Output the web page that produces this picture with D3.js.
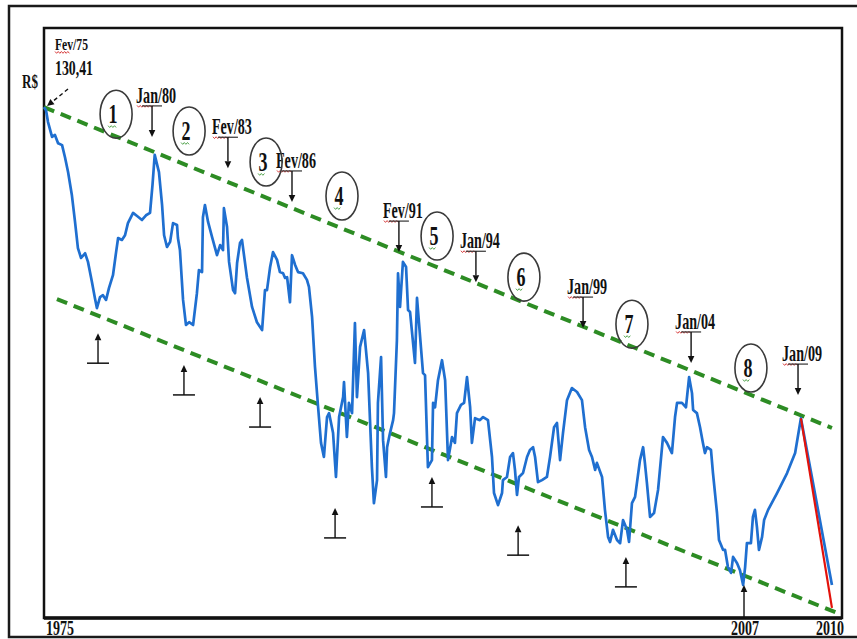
<!DOCTYPE html>
<html>
<head>
<meta charset="utf-8">
<script src="https://cdn.jsdelivr.net/npm/d3@7"></script>
<style>
  html, body { margin: 0; padding: 0; background: #fff; }
  svg { display: block; }
  .lbl { font-family: "Liberation Serif", "Times New Roman", serif; font-weight: bold; fill: #111; }
</style>
</head>
<body>
<svg id="chart" width="857" height="639"></svg>
<script>
// Series: decimal year -> R$
const years = [
  1975.08,1975.17,1975.26,1975.44,1975.57,1975.71,1975.89,1976.02,1976.16,1976.33,
  1976.47,1976.60,1976.74,1976.92,1977.05,1977.23,1977.36,1977.45,1977.59,1977.72,
  1977.86,1977.99,1978.17,1978.31,1978.40,1978.57,1978.71,1978.84,1979.07,1979.25,
  1979.47,1979.65,1979.83,1979.94,1980.04,1980.23,1980.37,1980.46,1980.59,1980.73,
  1980.86,1981.04,1981.08,1981.17,1981.31,1981.44,1981.58,1981.76,1981.93,1982.02,
  1982.16,1982.20,1982.29,1982.43,1982.61,1982.83,1982.97,1983.10,1983.14,1983.28,
  1983.37,1983.55,1983.64,1983.73,1983.86,1983.95,1984.17,1984.40,1984.62,1984.85,
  1984.98,1985.07,1985.21,1985.34,1985.52,1985.65,1985.79,1985.88,1985.97,1986.10,
  1986.19,1986.33,1986.46,1986.68,1986.86,1986.95,1987.09,1987.22,1987.36,1987.49,
  1987.62,1987.76,1987.85,1988.03,1988.16,1988.30,1988.48,1988.52,1988.65,1988.74,
  1988.88,1989.01,1989.10,1989.24,1989.42,1989.60,1989.77,1989.86,1990.00,1990.04,
  1990.18,1990.27,1990.40,1990.45,1990.58,1990.72,1990.76,1990.89,1990.94,1991.03,
  1991.16,1991.30,1991.39,1991.48,1991.70,1991.79,1991.93,1992.06,1992.15,1992.28,
  1992.46,1992.51,1992.60,1992.73,1992.91,1993.05,1993.18,1993.36,1993.49,1993.58,
  1993.76,1993.90,1994.03,1994.17,1994.25,1994.39,1994.61,1994.75,1994.97,1995.15,
  1995.24,1995.42,1995.60,1995.64,1995.82,1995.96,1996.09,1996.18,1996.27,1996.36,
  1996.54,1996.72,1996.85,1996.99,1997.08,1997.21,1997.39,1997.61,1997.75,1997.93,
  1998.06,1998.20,1998.33,1998.51,1998.73,1998.96,1999.18,1999.32,1999.50,1999.63,
  1999.77,1999.85,2000.08,2000.21,2000.35,2000.44,2000.57,2000.75,2000.89,2001.02,
  2001.20,2001.29,2001.42,2001.56,2001.78,2001.92,2002.00,2002.09,2002.23,2002.41,
  2002.59,2002.81,2002.99,2003.21,2003.35,2003.44,2003.66,2003.84,2003.98,2004.11,
  2004.16,2004.33,2004.47,2004.60,2004.69,2004.78,2004.96,2005.05,2005.23,2005.32,
  2005.50,2005.59,2005.72,2005.86,2005.95,2006.13,2006.26,2006.40,2006.49,2006.57,
  2006.75,2006.84,2006.93,2007.02,2007.11,2007.25,2007.34,2007.52,2007.92,2008.37,
  2008.73,2008.99,2009.53,2009.98,2010.38
];
const values = [
  130.4,129.6,126.6,122.8,123.3,121.2,120.7,117.6,113.8,107.9,
  101.1,94.4,91.9,93.1,90.9,85.7,81.7,79.1,81.9,82.4,
  81.2,84.2,87.5,93.4,97.0,96.5,97.7,100.8,103.4,102.6,
  101.6,102.8,103.4,110.5,118.2,113.8,105.4,97.7,94.7,96.0,
  100.8,100.3,97.0,93.9,81.2,74.8,75.5,74.8,82.9,88.8,
  88.3,102.3,105.4,101.1,97.2,92.6,95.2,93.9,104.6,99.8,
  90.9,83.7,82.9,90.6,95.7,96.5,87.0,79.4,75.5,73.5,
  83.7,83.7,89.6,93.4,91.4,88.3,88.0,86.8,87.0,80.6,
  92.6,90.1,88.3,88.0,86.3,84.5,76.8,64.1,53.8,44.7,
  41.1,51.3,52.3,47.2,36.0,51.3,56.4,60.2,46.2,54.9,
  52.3,75.3,56.4,69.2,73.5,62.5,38.5,29.3,35.2,54.9,
  66.6,45.4,36.0,43.6,47.2,50.5,52.3,70.9,88.0,79.4,
  90.9,89.6,78.6,78.1,65.1,81.7,71.7,62.5,62.0,38.5,
  40.3,54.9,53.8,60.7,65.8,60.7,40.3,46.2,44.7,52.3,
  54.4,54.9,61.5,53.8,44.7,51.0,50.5,51.3,50.5,41.1,
  31.9,28.8,31.9,35.2,36.0,41.1,42.1,37.8,31.4,36.0,
  37.0,41.1,42.9,43.6,41.1,34.7,35.2,36.0,41.1,48.7,
  49.8,40.3,47.2,55.6,58.7,57.7,55.6,48.7,42.9,41.1,
  37.8,39.6,36.0,27.6,20.7,19.4,22.5,19.9,19.1,25.0,
  22.5,19.4,29.3,30.9,40.3,43.6,39.6,34.5,25.8,26.8,
  32.7,46.2,44.7,42.1,51.3,54.9,54.9,53.8,61.5,57.4,
  53.1,52.3,48.7,44.7,42.1,43.6,42.9,37.0,26.8,19.9,
  17.4,17.4,13.0,11.5,15.6,14.0,12.2,8.4,13.0,19.1,
  19.1,25.8,27.6,23.2,17.4,20.7,25.0,27.6,31.9,37.0,
  42.1,51.0,34.5,20.7,8.4
];

// red projection after Jan/09
const crashYears = [2008.99, 2010.38];
const crashValues = [51.0, 2.6];

// channel lines (green dashes)
const upperYears = [1975.08, 2010.38];
const upperValues = [130.4, 48.5];
const lowerYears = [1975.66, 2010.61];
const lowerValues = [81.4, 1.3];

// peaks marked from above
const peakLabels = ['Jan/80', 'Fev/83', 'Fev/86', 'Fev/91', 'Jan/94', 'Jan/99', 'Jan/04', 'Jan/09'];
const peakYears = [1979.92, 1983.32, 1986.19, 1990.98, 1994.43, 1999.23, 2004.07, 2008.86];
const peakTips = [122.8, 114.8, 106.2, 93.4, 85.7, 74.0, 65.1, 56.9];

// troughs marked from below
const troughYears = [1977.50, 1981.35, 1984.76, 1988.12, 1992.46, 1996.32, 2001.15];
const troughTips = [72.7, 64.6, 56.4, 28.1, 36.0, 23.7, 15.6];
const lowYear = 2006.44, lowValue = 8.4;

// numbered cycles
const cycleLabels = ['1', '2', '3', '4', '5', '6', '7', '8'];
const cycleYears = [1978.31, 1981.58, 1985.03, 1988.43, 1992.69, 1996.58, 2001.42, 2006.75];
const cycleValues = [128.6, 124.3, 116.4, 107.7, 97.5, 87.0, 75.0, 63.8];

const tickYears = [1975.08, 2006.44, 2010.25];
const tickLabels = ['1975', '2007', '2010'];

const startYear = 1975.08, startValue = 130.41;
const startMonth = 'Fev/75', startText = '130,41', unitText = 'R$';

const svg = d3.select('#chart');
const x = d3.scaleLinear().domain([1975.08, 2010.83]).range([44, 842]);
const y = d3.scaleLinear().domain([0, 150.6]).range([618, 28]);

function label(g, str, px, py, size, width, anchor) {
  return g.append('text').attr('class', 'lbl')
    .attr('x', px).attr('y', py)
    .attr('font-size', size)
    .attr('text-anchor', anchor || 'start')
    .attr('textLength', width).attr('lengthAdjust', 'spacingAndGlyphs')
    .text(str);
}

function squiggle(g, x0, x1, py, color) {
  const pts = [];
  for (let px = x0, i = 0; px <= x1; px += 1.6, i++) pts.push([px, py + (i % 2 ? 1.3 : -0.5)]);
  g.append('path').attr('d', d3.line()(pts))
    .attr('fill', 'none').attr('stroke', color).attr('stroke-width', 0.9);
}

function arrow(g, x1, y1, x2, y2, dash) {
  const a = Math.atan2(y2 - y1, x2 - x1), head = 7, half = 3.3;
  const bx = x2 - head * Math.cos(a), by = y2 - head * Math.sin(a);
  g.append('line').attr('x1', x1).attr('y1', y1).attr('x2', bx).attr('y2', by)
    .attr('stroke', '#111').attr('stroke-width', 1.4)
    .attr('stroke-dasharray', dash || null);
  const nx = -Math.sin(a) * half, ny = Math.cos(a) * half;
  g.append('path')
    .attr('d', `M${x2},${y2}L${bx + nx},${by + ny}L${bx - nx},${by - ny}Z`)
    .attr('fill', '#111');
}

// frames
svg.append('rect').attr('x', 9).attr('y', 6).attr('width', 852).attr('height', 631)
  .attr('fill', 'none').attr('stroke', '#1a1a1a').attr('stroke-width', 2.5);
svg.append('rect').attr('x', 44).attr('y', 28).attr('width', 798).attr('height', 590)
  .attr('fill', 'none').attr('stroke', '#111').attr('stroke-width', 2.5);
svg.append('line').attr('x1', 44).attr('x2', 842).attr('y1', 618).attr('y2', 618)
  .attr('stroke', '#111').attr('stroke-width', 3.5);

// channel
const trend = svg.append('g').attr('fill', 'none').attr('stroke', '#2d8c24')
  .attr('stroke-width', 4).attr('stroke-dasharray', '11,7');
const line = d3.line().x(d => x(d[0])).y(d => y(d[1]));
trend.append('path').attr('d', line(d3.zip(upperYears, upperValues)));
trend.append('path').attr('d', line(d3.zip(lowerYears, lowerValues)));

// series
svg.append('path').attr('d', line(d3.zip(years, values)))
  .attr('fill', 'none').attr('stroke', '#1f6fd0').attr('stroke-width', 2.7)
  .attr('stroke-linejoin', 'round');
svg.append('path').attr('d', line(d3.zip(crashYears, crashValues)))
  .attr('fill', 'none').attr('stroke', '#e3120b').attr('stroke-width', 2.2);

const ann = svg.append('g');

// start point annotation
label(ann, startMonth, 55, 50, 17, 33);
squiggle(ann, 55, 70, 52, '#d42a2a');
label(ann, startText, 55, 75, 20, 38);
label(ann, unitText, 22, 88, 19, 16);
arrow(ann, 68, 89, x(startYear) + 3, y(startValue) - 1, '4,3');

// peaks
peakLabels.forEach((t, i) => {
  const px = x(peakYears[i]), tip = y(peakTips[i]), bar = tip - 31;
  const tx = px - 16;
  label(ann, t, tx, bar - 3, 23, 40);
  squiggle(ann, tx + 1, tx + 17, bar, '#d42a2a');
  ann.append('line').attr('x1', px - 10).attr('x2', px + 10).attr('y1', bar).attr('y2', bar)
    .attr('stroke', '#333').attr('stroke-width', 1.2);
  arrow(ann, px, bar, px, tip);
});

// troughs
troughYears.forEach((yr, i) => {
  const px = x(yr), tip = y(troughTips[i]), bar = tip + 30;
  ann.append('line').attr('x1', px - 11).attr('x2', px + 11).attr('y1', bar).attr('y2', bar)
    .attr('stroke', '#111').attr('stroke-width', 1.5);
  arrow(ann, px, bar, px, tip);
});
arrow(ann, x(lowYear), y(0), x(lowYear), y(lowValue));

// cycle numbers
cycleLabels.forEach((t, i) => {
  const cx = x(cycleYears[i]), cy = y(cycleValues[i]);
  ann.append('ellipse').attr('cx', cx).attr('cy', cy).attr('rx', 16).attr('ry', 24)
    .attr('fill', 'none').attr('stroke', '#3a3a3a').attr('stroke-width', 1.6);
  label(ann, t, cx - 3, cy + 9, 28, 9, 'middle');
  squiggle(ann, cx - 8, cx, cy + 12, '#3f9a3a');
});

// x tick labels
tickLabels.forEach((t, i) => {
  const first = i === 0;
  label(ann, t, x(tickYears[i]) + (first ? 2 : 1), 635, 22, 28, first ? 'start' : 'middle');
});
</script>
</body>
</html>
